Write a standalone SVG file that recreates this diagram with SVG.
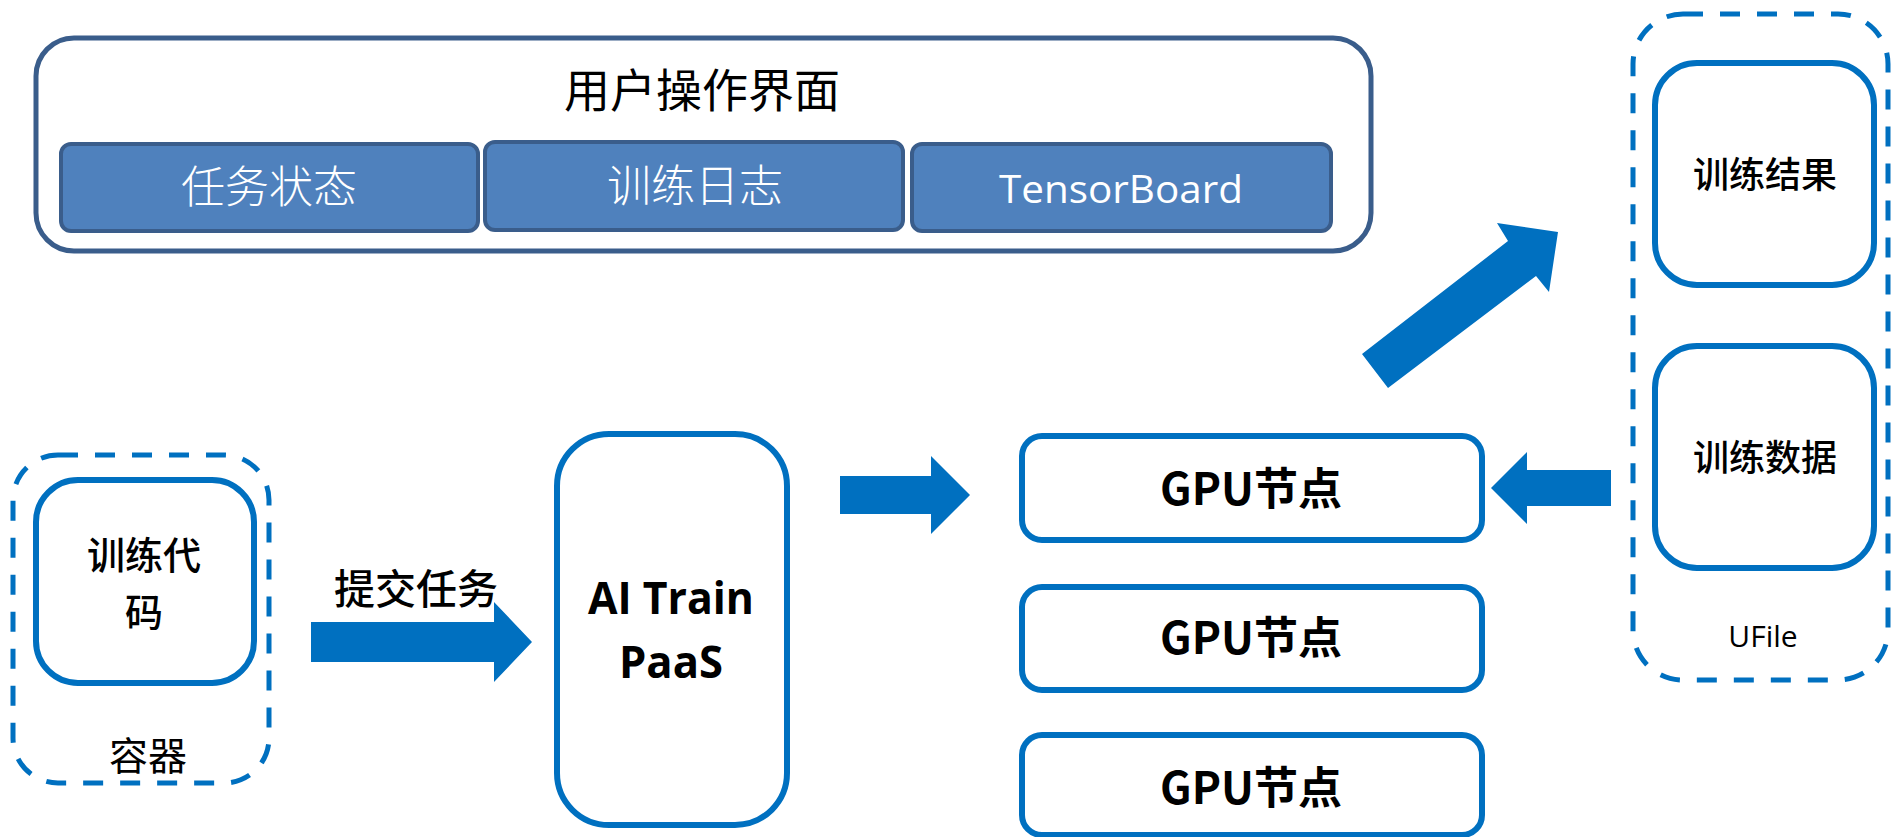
<svg xmlns="http://www.w3.org/2000/svg" width="1891" height="837" viewBox="0 0 1891 837">
<style>
.cjk{font-family:"Noto Sans CJK SC","Noto Sans",sans-serif}
.lat{font-family:"Open Sans","Noto Sans",sans-serif}
.box{fill:#fff;stroke:#0070C0;stroke-width:6}
.dash{fill:none;stroke:#0070C0;stroke-width:5;stroke-dasharray:20 17}
.sub{fill:#4F81BD;stroke:#3A5D8B;stroke-width:4}
.arrow{fill:#0070C0}
</style>
<rect width="1891" height="837" fill="#fff"/>
<g id="ui">
<rect x="36" y="38" width="1335" height="213" rx="38" fill="#fff" stroke="#3A5D8B" stroke-width="5"/>
<text x="702" y="107" text-anchor="middle" class="cjk" font-size="46" fill="#000">用户操作界面</text>
</g>
<g id="task-status">
<rect class="sub" x="61" y="144" width="417" height="87" rx="10"/>
<text x="269" y="203" text-anchor="middle" class="cjk" font-size="44" font-weight="300" fill="#fff">任务状态</text>
</g>
<g id="train-log">
<rect class="sub" x="485" y="142" width="418" height="88" rx="10"/>
<text x="695" y="202" text-anchor="middle" class="cjk" font-size="44" font-weight="300" fill="#fff">训练日志</text>
</g>
<g id="tensorboard">
<rect class="sub" x="912" y="144" width="419" height="87" rx="10"/>
<text x="1121" y="203" text-anchor="middle" class="lat" font-size="39" fill="#fff" textLength="244" lengthAdjust="spacingAndGlyphs">TensorBoard</text>
</g>
<g id="container">
<rect class="dash" x="13" y="455" width="256" height="328" rx="45"/>
<text x="148" y="770" text-anchor="middle" class="cjk" font-size="39" fill="#000">容器</text>
</g>
<g id="train-code">
<rect class="box" x="36" y="480" width="218" height="203" rx="42" stroke-width="5"/>
<text x="144" y="569" text-anchor="middle" class="cjk" font-size="38" font-weight="500" fill="#000">训练代</text>
<text x="144" y="626" text-anchor="middle" class="cjk" font-size="38" font-weight="500" fill="#000">码</text>
</g>
<g id="paas">
<rect class="box" x="557" y="434" width="230" height="391" rx="52"/>
<text x="671" y="614" text-anchor="middle" class="lat" font-size="44" font-weight="700" fill="#000" textLength="166" lengthAdjust="spacingAndGlyphs">AI Train</text>
<text x="671" y="678" text-anchor="middle" class="lat" font-size="44" font-weight="700" fill="#000" textLength="104" lengthAdjust="spacingAndGlyphs">PaaS</text>
</g>
<g id="gpu1">
<rect class="box" x="1022" y="436" width="460" height="104" rx="20"/>
<text x="1251" y="505" text-anchor="middle" class="cjk" font-size="44" font-weight="700" fill="#000">GPU节点</text>
</g>
<g id="gpu2">
<rect class="box" x="1022" y="587" width="460" height="103" rx="20"/>
<text x="1251" y="654" text-anchor="middle" class="cjk" font-size="44" font-weight="700" fill="#000">GPU节点</text>
</g>
<g id="gpu3">
<rect class="box" x="1022" y="735" width="460" height="100" rx="20"/>
<text x="1251" y="804" text-anchor="middle" class="cjk" font-size="44" font-weight="700" fill="#000">GPU节点</text>
</g>
<g id="ufile">
<rect class="dash" x="1633" y="14" width="255" height="666" rx="50"/>
<text x="1763" y="647" text-anchor="middle" class="lat" font-size="30" fill="#000">UFile</text>
</g>
<g id="train-result">
<rect class="box" x="1655" y="63" width="219" height="222" rx="42" stroke-width="5"/>
<text x="1765" y="188" text-anchor="middle" class="cjk" font-size="36" font-weight="500" fill="#000">训练结果</text>
</g>
<g id="train-data">
<rect class="box" x="1655" y="346" width="219" height="222" rx="42" stroke-width="5"/>
<text x="1765" y="471" text-anchor="middle" class="cjk" font-size="36" font-weight="500" fill="#000">训练数据</text>
</g>
<g id="connectors">
<polygon class="arrow" points="311,622 494,622 494,602 532,642 494,682 494,662 311,662"/>
<text x="416" y="604" text-anchor="middle" class="cjk" font-size="41" font-weight="500" fill="#000">提交任务</text>
<polygon class="arrow" points="840,476 931,476 931,456 970,495 931,534 931,514 840,514"/>
<polygon class="arrow" points="1611,470 1527,470 1527,452 1491,488 1527,524 1527,506 1611,506"/>
<polygon class="arrow" points="1362,354 1508,241 1497,223 1558,232 1549,292 1536,276 1388,388"/>
</g>
</svg>
